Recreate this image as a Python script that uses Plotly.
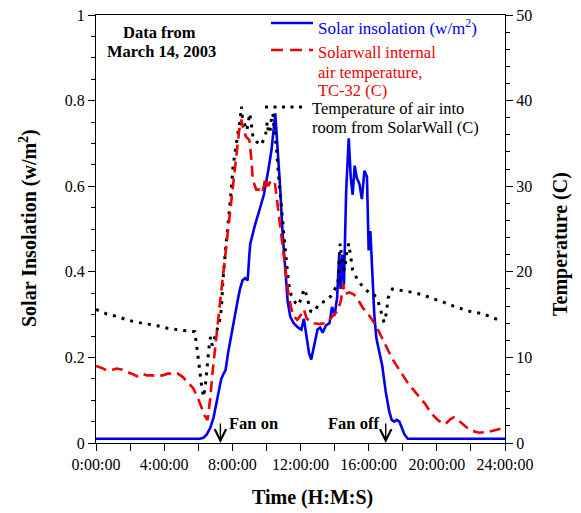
import plotly.graph_objects as go

# time of day in hours
ins_time = [0.0, 2.0, 4.0, 5.5, 6.1, 6.3, 6.5, 6.7, 6.9, 7.05, 7.2, 7.35, 7.5, 7.6,
            7.75, 7.9, 8.1, 8.3, 8.45, 8.6, 8.75, 8.9, 9.0, 9.05, 9.3, 9.6, 9.85,
            10.1, 10.3, 10.52, 10.65, 10.8, 10.95, 11.1, 11.25, 11.4, 11.6, 11.85,
            12.05, 12.2, 12.35, 12.5, 12.63, 12.8, 13.0, 13.15, 13.3, 13.5, 13.7,
            13.85, 14.0, 14.15, 14.27, 14.35, 14.45, 14.55, 14.68, 14.83, 14.95,
            15.06, 15.18, 15.3, 15.46, 15.6, 15.75, 15.9, 16.0, 16.1, 16.2, 16.33,
            16.45, 16.6, 16.8, 17.0, 17.2, 17.35, 17.5, 17.65, 17.8, 17.95, 18.1,
            18.3, 18.5, 20.0, 24.0]
insolation = [0.01, 0.01, 0.01, 0.01, 0.01, 0.012, 0.02, 0.035, 0.06, 0.09, 0.12, 0.15,
              0.163, 0.17, 0.21, 0.245, 0.285, 0.33, 0.36, 0.38, 0.385, 0.38, 0.44,
              0.465, 0.505, 0.545, 0.58, 0.635, 0.685, 0.77, 0.70, 0.60, 0.49, 0.40,
              0.33, 0.295, 0.28, 0.27, 0.265, 0.29, 0.25, 0.21, 0.195, 0.23, 0.265,
              0.27, 0.258, 0.275, 0.28, 0.318, 0.298, 0.34, 0.44, 0.36, 0.44, 0.37,
              0.59, 0.712, 0.62, 0.58, 0.648, 0.62, 0.605, 0.57, 0.636, 0.622, 0.45,
              0.495, 0.40, 0.30, 0.245, 0.215, 0.18, 0.12, 0.075, 0.054, 0.05, 0.054,
              0.05, 0.035, 0.02, 0.01, 0.01, 0.01, 0.01]

wall_time = [0.0, 0.3, 0.6, 0.9, 1.2, 1.5, 1.8, 2.1, 2.4, 2.7, 3.0, 3.3, 3.6, 3.9, 4.2,
             4.5, 4.8, 5.1, 5.4, 5.7, 5.95, 6.2, 6.4, 6.55, 6.7, 6.85, 7.0, 7.15, 7.3,
             7.5, 7.7, 7.9, 8.05, 8.25, 8.4, 8.53, 8.65, 8.8, 9.0, 9.1, 9.2, 9.4, 9.6,
             9.76, 9.95, 10.1, 10.2, 10.38, 10.5, 10.62, 10.77, 10.95, 11.15, 11.3,
             11.45, 11.6, 11.8, 12.0, 12.2, 12.35, 12.55, 12.8, 13.1, 13.4, 13.6, 13.9,
             14.2, 14.38, 14.5, 14.62, 14.85, 15.1, 15.3, 15.65, 16.0, 16.4, 16.8, 17.1,
             17.4, 17.8, 18.3, 18.8, 19.3, 19.7, 20.1, 20.5, 20.8, 21.0, 21.3, 21.7,
             22.1, 22.5, 23.0, 23.4, 23.8, 24.0]
wall_temp = [9.0, 8.8, 8.5, 8.5, 8.7, 8.6, 8.3, 8.1, 7.8, 8.1, 7.9, 7.9, 7.8, 7.9, 8.1,
             8.1, 8.1, 7.7, 7.1, 6.4, 5.4, 4.0, 3.1, 2.7, 5.2, 8.5, 11.0, 14.0, 16.8,
             20.5, 23.8, 27.2, 30.0, 33.8, 36.5, 37.8, 36.6, 35.8, 35.4, 33.5, 30.8,
             29.6, 29.6, 29.2, 31.0, 30.0, 30.4, 30.0, 30.3, 28.4, 26.0, 22.8, 19.5,
             17.3, 15.8, 14.8, 14.4, 14.9, 15.6, 14.6, 14.2, 14.0, 13.9, 14.0, 14.2,
             14.8, 15.5, 16.7, 18.6, 17.4, 17.6, 17.4, 17.0, 15.8, 15.0, 13.8, 12.3,
             11.0, 9.8, 8.6, 7.0, 5.8, 4.6, 3.4, 2.6, 2.2, 2.8, 3.0, 2.6, 1.9, 1.4,
             1.2, 1.3, 1.5, 1.7, 1.9]

room_time = [0.0, 0.6, 1.2, 1.8, 2.4, 3.0, 3.6, 4.2, 4.8, 5.3, 5.8, 5.9, 6.0, 6.1, 6.2,
             6.32, 6.42, 6.5, 6.56, 6.65, 6.72, 6.82, 6.95, 7.1, 7.25, 7.36, 7.45, 7.6,
             7.8, 7.94, 8.04, 8.2, 8.35, 8.45, 8.53, 8.6, 8.72, 8.85, 9.02, 9.12, 9.22,
             9.41, 9.7, 9.95, 10.05, 10.12, 10.2, 10.3, 10.38, 10.45, 10.6, 10.7, 10.8,
             10.9, 11.0, 11.1, 11.2, 11.3, 11.45, 11.7, 11.9, 12.1, 12.25, 12.4, 12.6,
             12.8, 13.1, 13.5, 13.8, 14.0, 14.2, 14.28, 14.33, 14.4, 14.5, 14.6, 14.72,
             14.83, 14.93, 15.06, 15.36, 15.65, 16.0, 16.3, 16.55, 16.73, 16.9, 17.02,
             17.15, 17.4, 17.99, 18.58, 19.2, 19.7, 20.33, 21.1, 21.9, 22.7, 23.2, 23.6]
room_temp = [15.6, 15.1, 14.8, 14.4, 14.1, 13.9, 13.7, 13.4, 13.2, 13.1, 13.0, 11.6,
             10.0, 8.3, 6.6, 5.4, 6.8, 8.8, 10.3, 11.5, 12.4, 11.4, 12.2, 13.2, 14.2,
             15.7, 19.0, 22.6, 26.4, 29.6, 32.3, 34.8, 36.5, 37.5, 39.3, 37.8, 37.3,
             36.5, 38.5, 37.2, 35.6, 35.2, 34.8, 36.0, 37.5, 36.2, 36.3, 37.9, 38.5,
             36.8, 34.2, 31.5, 28.8, 27.2, 24.9, 22.9, 20.6, 18.6, 17.3, 16.4, 16.1,
             17.4, 18.0, 17.0, 15.4, 15.3, 16.3, 16.6, 17.2, 17.9, 18.8, 21.8, 23.3,
             22.0, 20.4, 20.2, 22.5, 23.3, 21.8, 20.2, 19.0, 18.3, 17.6, 17.4, 16.6,
             15.4, 14.1, 15.0, 17.0, 18.0, 17.8, 17.6, 17.3, 16.9, 16.5, 15.9, 15.4,
             15.1, 14.7, 14.4]

hour_ticks = list(range(0, 25, 2))
hour_labels = ['%d:00:00' % h if h % 4 == 0 else '' for h in hour_ticks]
fan_on, fan_off = 7.3, 17.0

BLUE = '#0000f0'
RED = '#f00000'
SERIF = 'Liberation Serif'

# plot area in pixels
W, H = 581, 513
L, R, T, B = 96, 505, 15, 443


def px(x, y):
    # pixel position -> paper coordinates
    return (x - L) / (R - L), (B - y) / (B - T)


fig = go.Figure()

fig.add_trace(go.Scatter(x=room_time, y=room_temp, yaxis='y2', mode='lines',
                         line=dict(color='black', width=3, dash='3px,6px')))
fig.add_trace(go.Scatter(x=wall_time, y=wall_temp, yaxis='y2', mode='lines',
                         line=dict(color=RED, width=2.6, dash='11px,6px')))
fig.add_trace(go.Scatter(x=ins_time, y=insolation, mode='lines',
                         line=dict(color=BLUE, width=2.6)))

# hand-made legend
shapes = []
for x0, x1, yy, col, dash in [(271, 313, 23, BLUE, 'solid'),
                              (271, 313, 50, RED, '12px,7px'),
                              (265, 307, 107, 'black', '3px,5.5px')]:
    a, b = px(x0, yy)
    c, _ = px(x1, yy)
    shapes.append(dict(type='line', xref='paper', yref='paper', x0=a, x1=c, y0=b, y1=b,
                       line=dict(color=col, width=3 if col == 'black' else 2.6, dash=dash)))

annots = []


def text(s, x, y, size=16.5, color='black', bold=False, anchor='left', angle=0):
    a, b = px(x, y)
    if bold:
        s = '<b>' + s + '</b>'
    annots.append(dict(text=s, x=a, y=b, xref='paper', yref='paper', showarrow=False,
                       xanchor=anchor, yanchor='middle', textangle=angle,
                       font=dict(family=SERIF, size=size, color=color)))


text('Solar insolation (w/m<sup>2</sup>)', 316, 27, size=17, color=BLUE)
text('Solarwall internal', 316, 52, color=RED)
text('air temperature,', 316, 72, color=RED)
text('TC-32 (C)', 316, 90, color=RED)
text('Temperature of air into', 310, 109)
text('room from SolarWall (C)', 310, 128)
text('Data from', 159, 32, bold=True, anchor='center')
text('March 14, 2003', 161, 51, bold=True, anchor='center')
text('Fan on', 227, 423, bold=True)
text('Fan off', 381, 423, bold=True, anchor='right')
text('Time (H:M:S)', 312, 497, size=20, bold=True, anchor='center')
text('Solar Insolation (w/m<sup>2</sup>)', 28, 228, size=20, bold=True, anchor='center', angle=-90)
text('Temperature (C)', 560, 244, size=20, bold=True, anchor='center', angle=-90)

for fx in (fan_on, fan_off):
    annots.append(dict(x=fx, y=0, xref='x', yref='y', text='', showarrow=True,
                       ax=0, ay=-21, arrowhead=5, arrowsize=1.6, arrowwidth=1.4,
                       arrowcolor='black'))

axis_common = dict(showline=True, linecolor='black', linewidth=1, ticks='outside',
                   ticklen=7, tickcolor='black', showgrid=False, zeroline=False,
                   automargin=False,
                   tickfont=dict(family=SERIF, size=16, color='black'))

fig.update_layout(
    width=W, height=H,
    margin=dict(l=L, r=W - R, t=T, b=H - B, autoexpand=False),
    paper_bgcolor='white', plot_bgcolor='white',
    showlegend=False,
    xaxis=dict(range=[0, 24], tickmode='array', tickvals=hour_ticks, ticktext=hour_labels,
               mirror=True, **axis_common),
    yaxis=dict(range=[0, 1], tickmode='linear', tick0=0, dtick=0.2,
               minor=dict(dtick=0.05, tick0=0, ticks='outside', ticklen=4, tickcolor='black'),
               **axis_common),
    yaxis2=dict(range=[0, 50], overlaying='y', side='right', anchor='x',
                tickmode='linear', tick0=0, dtick=10,
                minor=dict(dtick=2, tick0=0, ticks='outside', ticklen=4, tickcolor='black'),
                **axis_common),
    shapes=shapes,
    annotations=annots,
)

# page body has a default 8px margin; drop it so the figure sits at the window corner
fig.write_html("out.html", config={'displayModeBar': False},
               post_script="document.body.style.margin='0px';")
